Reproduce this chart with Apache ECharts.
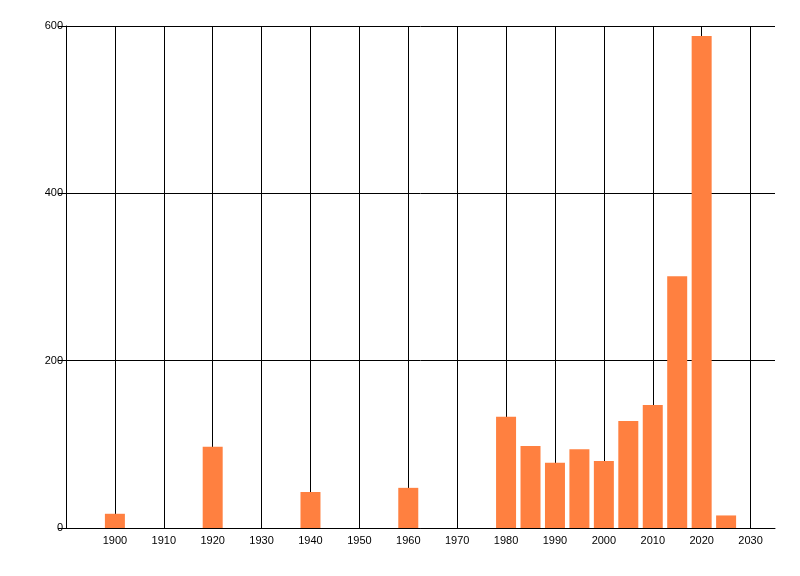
<!DOCTYPE html>
<html>
<head>
<meta charset="utf-8">
<script src="https://cdn.jsdelivr.net/npm/echarts@6/dist/echarts.min.js"></script>
<style>
html,body{margin:0;padding:0;background:#fff;}
#chart{width:800px;height:576px;}
</style>
</head>
<body>
<div id="chart"></div>
<script>
var years = [1900, 1920, 1940, 1960, 1980, 1985, 1990, 1995, 2000, 2005, 2010, 2015, 2020, 2025];
var counts = [17, 97, 43, 48, 133, 98, 78, 94, 80, 128, 147, 301, 588, 15];
var yTicks = [0, 200, 400, 600];

var chart = echarts.init(document.getElementById('chart'), null, {renderer: 'canvas'});
var txt = {color: '#000', fontFamily: 'Liberation Sans, Arial, sans-serif', fontSize: 11};
chart.setOption({
  animation: false,
  backgroundColor: '#fff',
  grid: {left: 66, right: 25, top: 26, bottom: 48},
  xAxis: {
    type: 'value',
    min: 1890, max: 2035, interval: 10,
    axisLine: {show: true, lineStyle: {color: '#000', width: 1}},
    axisTick: {show: false},
    axisLabel: Object.assign({margin: 7, showMaxLabel: false, showMinLabel: false,
      formatter: function (v) { return (v === 1890 || v === 2035) ? '' : String(v); }}, txt),
    splitLine: {show: true, showMinLine: false, showMaxLine: false, lineStyle: {color: '#000', width: 1}}
  },
  yAxis: {
    type: 'value',
    min: yTicks[0], max: yTicks[yTicks.length - 1], interval: 200,
    axisLine: {show: true, lineStyle: {color: '#000', width: 1}},
    axisTick: {show: true, length: 8, lineStyle: {color: '#000'}},
    axisLabel: Object.assign({margin: 3}, txt),
    splitLine: {show: true, lineStyle: {color: '#000', width: 1}}
  },
  series: [{
    type: 'bar',
    barWidth: 20,
    itemStyle: {color: '#ff8040'},
    data: years.map(function (y, i) { return [y, counts[i]]; })
  }]
});
</script>
</body>
</html>
